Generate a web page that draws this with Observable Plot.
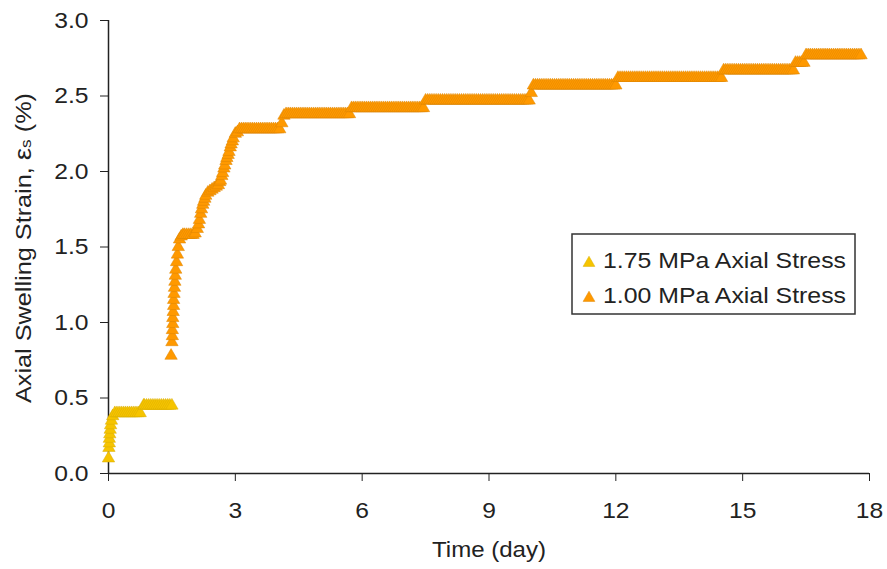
<!DOCTYPE html>
<html>
<head>
<meta charset="utf-8">
<script src="https://cdn.jsdelivr.net/npm/d3@7"></script>
<script src="https://cdn.jsdelivr.net/npm/@observablehq/plot@0.6"></script>
<style>
  html, body { margin: 0; padding: 0; background: #fff; }
  #chart svg { display: block; }
</style>
</head>
<body>
<div id="chart"></div>
<script>
// ---- data ----
const seriesNames = ["1.75 MPa Axial Stress", "1.00 MPa Axial Stress"];
const xTicks = [0, 3, 6, 9, 12, 15, 18];
const yTicks = [0, 0.5, 1.0, 1.5, 2.0, 2.5, 3.0];
const xTitle = "Time (day)";
const yTitle = "Axial Swelling Strain, ";

// 1.75 MPa series: [time (day), strain (%)]
const yellowPoints = [
  [0.00,0.10],[0.01,0.17],[0.02,0.20],[0.02,0.23],[0.03,0.26],[0.04,0.29],[0.05,0.32],[0.07,0.35],[0.10,0.38],
  [0.15,0.40],[0.20,0.40],[0.25,0.40],[0.30,0.40],[0.35,0.40],[0.40,0.40],[0.45,0.40],[0.50,0.40],[0.55,0.40],
  [0.60,0.40],[0.65,0.40],[0.70,0.40],[0.75,0.40],
  [0.83,0.45],[0.85,0.45],[0.90,0.45],[0.95,0.45],[1.00,0.45],[1.05,0.45],[1.10,0.45],[1.15,0.45],[1.20,0.45],
  [1.25,0.45],[1.30,0.45],[1.35,0.45],[1.40,0.45],[1.45,0.45],[1.50,0.45]
];

// 1.00 MPa series: [time (day), strain (%)]
const orangePoints = [
  [1.48,0.78],
  [1.50,0.87],[1.51,0.91],[1.51,0.95],[1.52,0.99],[1.52,1.03],[1.53,1.07],[1.54,1.11],[1.54,1.15],[1.55,1.19],
  [1.56,1.23],[1.57,1.27],[1.58,1.31],[1.59,1.35],[1.61,1.40],[1.63,1.45],[1.65,1.50],[1.68,1.55],
  [1.72,1.57],[1.76,1.58],[1.80,1.58],[1.85,1.58],[1.90,1.58],[1.95,1.58],[2.00,1.58],[2.05,1.59],
  [2.10,1.62],[2.13,1.65],[2.15,1.68],[2.18,1.72],[2.20,1.75],[2.23,1.78],[2.25,1.80],[2.28,1.82],[2.30,1.84],
  [2.35,1.86],[2.40,1.87],[2.45,1.88],[2.50,1.89],[2.55,1.90],[2.60,1.91],[2.63,1.93],[2.65,1.94],[2.68,1.97],
  [2.70,1.99],[2.73,2.02],[2.75,2.04],[2.78,2.07],[2.80,2.09],[2.83,2.11],[2.85,2.13],[2.88,2.16],[2.90,2.18],
  [2.93,2.20],[2.95,2.22],[3.00,2.25],
  [3.05,2.26],[3.10,2.28],[3.15,2.28],[3.20,2.28],[3.25,2.28],[3.30,2.28],[3.35,2.28],[3.40,2.28],[3.45,2.28],
  [3.50,2.28],[3.55,2.28],[3.60,2.28],[3.65,2.28],[3.70,2.28],[3.75,2.28],[3.80,2.28],[3.85,2.28],[3.90,2.28],
  [3.95,2.28],[4.00,2.28],[4.05,2.28],
  [4.10,2.32],[4.15,2.37],
  [4.20,2.38],[4.25,2.38],[4.30,2.38],[4.35,2.38],[4.40,2.38],[4.45,2.38],[4.50,2.38],[4.55,2.38],[4.60,2.38],
  [4.65,2.38],[4.70,2.38],[4.75,2.38],[4.80,2.38],[4.85,2.38],[4.90,2.38],[4.95,2.38],[5.00,2.38],[5.05,2.38],
  [5.10,2.38],[5.15,2.38],[5.20,2.38],[5.25,2.38],[5.30,2.38],[5.35,2.38],[5.40,2.38],[5.45,2.38],[5.50,2.38],
  [5.55,2.38],[5.60,2.38],[5.65,2.38],[5.70,2.38],
  [5.75,2.42],[5.80,2.42],[5.85,2.42],[5.90,2.42],[5.95,2.42],[6.00,2.42],[6.05,2.42],[6.10,2.42],[6.15,2.42],
  [6.20,2.42],[6.25,2.42],[6.30,2.42],[6.35,2.42],[6.40,2.42],[6.45,2.42],[6.50,2.42],[6.55,2.42],[6.60,2.42],
  [6.65,2.42],[6.70,2.42],[6.75,2.42],[6.80,2.42],[6.85,2.42],[6.90,2.42],[6.95,2.42],[7.00,2.42],[7.05,2.42],
  [7.10,2.42],[7.15,2.42],[7.20,2.42],[7.25,2.42],[7.30,2.42],[7.35,2.42],[7.40,2.42],[7.45,2.42],
  [7.50,2.47],[7.55,2.47],[7.60,2.47],[7.65,2.47],[7.70,2.47],[7.75,2.47],[7.80,2.47],[7.85,2.47],[7.90,2.47],
  [7.95,2.47],[8.00,2.47],[8.05,2.47],[8.10,2.47],[8.15,2.47],[8.20,2.47],[8.25,2.47],[8.30,2.47],[8.35,2.47],
  [8.40,2.47],[8.45,2.47],[8.50,2.47],[8.55,2.47],[8.60,2.47],[8.65,2.47],[8.70,2.47],[8.75,2.47],[8.80,2.47],
  [8.85,2.47],[8.90,2.47],[8.95,2.47],[9.00,2.47],[9.05,2.47],[9.10,2.47],[9.15,2.47],[9.20,2.47],[9.25,2.47],
  [9.30,2.47],[9.35,2.47],[9.40,2.47],[9.45,2.47],[9.50,2.47],[9.55,2.47],[9.60,2.47],[9.65,2.47],[9.70,2.47],
  [9.75,2.47],[9.80,2.47],[9.85,2.47],[9.90,2.47],[9.95,2.47],
  [10.00,2.52],
  [10.05,2.57],[10.10,2.57],[10.15,2.57],[10.20,2.57],[10.25,2.57],[10.30,2.57],[10.35,2.57],[10.40,2.57],
  [10.45,2.57],[10.50,2.57],[10.55,2.57],[10.60,2.57],[10.65,2.57],[10.70,2.57],[10.75,2.57],[10.80,2.57],
  [10.85,2.57],[10.90,2.57],[10.95,2.57],[11.00,2.57],[11.05,2.57],[11.10,2.57],[11.15,2.57],[11.20,2.57],
  [11.25,2.57],[11.30,2.57],[11.35,2.57],[11.40,2.57],[11.45,2.57],[11.50,2.57],[11.55,2.57],[11.60,2.57],
  [11.65,2.57],[11.70,2.57],[11.75,2.57],[11.80,2.57],[11.85,2.57],[11.90,2.57],[11.95,2.57],[12.00,2.57],
  [12.05,2.62],[12.10,2.62],[12.15,2.62],[12.20,2.62],[12.25,2.62],[12.30,2.62],[12.35,2.62],[12.40,2.62],
  [12.45,2.62],[12.50,2.62],[12.55,2.62],[12.60,2.62],[12.65,2.62],[12.70,2.62],[12.75,2.62],[12.80,2.62],
  [12.85,2.62],[12.90,2.62],[12.95,2.62],[13.00,2.62],[13.05,2.62],[13.10,2.62],[13.15,2.62],[13.20,2.62],
  [13.25,2.62],[13.30,2.62],[13.35,2.62],[13.40,2.62],[13.45,2.62],[13.50,2.62],[13.55,2.62],[13.60,2.62],
  [13.65,2.62],[13.70,2.62],[13.75,2.62],[13.80,2.62],[13.85,2.62],[13.90,2.62],[13.95,2.62],[14.00,2.62],
  [14.05,2.62],[14.10,2.62],[14.15,2.62],[14.20,2.62],[14.25,2.62],[14.30,2.62],[14.35,2.62],[14.40,2.62],
  [14.45,2.62],[14.50,2.62],
  [14.55,2.67],[14.60,2.67],[14.65,2.67],[14.70,2.67],[14.75,2.67],[14.80,2.67],[14.85,2.67],[14.90,2.67],
  [14.95,2.67],[15.00,2.67],[15.05,2.67],[15.10,2.67],[15.15,2.67],[15.20,2.67],[15.25,2.67],[15.30,2.67],
  [15.35,2.67],[15.40,2.67],[15.45,2.67],[15.50,2.67],[15.55,2.67],[15.60,2.67],[15.65,2.67],[15.70,2.67],
  [15.75,2.67],[15.80,2.67],[15.85,2.67],[15.90,2.67],[15.95,2.67],[16.00,2.67],[16.05,2.67],[16.10,2.67],
  [16.15,2.67],[16.20,2.67],
  [16.25,2.72],[16.30,2.72],[16.35,2.72],[16.40,2.72],[16.45,2.72],
  [16.50,2.77],[16.55,2.77],[16.60,2.77],[16.65,2.77],[16.70,2.77],[16.75,2.77],[16.80,2.77],[16.85,2.77],
  [16.90,2.77],[16.95,2.77],[17.00,2.77],[17.05,2.77],[17.10,2.77],[17.15,2.77],[17.20,2.77],[17.25,2.77],
  [17.30,2.77],[17.35,2.77],[17.40,2.77],[17.45,2.77],[17.50,2.77],[17.55,2.77],[17.60,2.77],[17.65,2.77],
  [17.70,2.77],[17.75,2.77],[17.80,2.77]
];

// ---- build tables ----
const yellowData = yellowPoints.map(([t, v]) => ({t, v}));
const orangeData = orangePoints.map(([t, v]) => ({t, v}));

const YELLOW = "#F6C400", YELLOW_EDGE = "#D9AC00";
const ORANGE = "#FF9900", ORANGE_EDGE = "#DD8500";
const FONT = "'Liberation Sans', Arial, sans-serif";
const INK = "#222";

const chart = Plot.plot({
  width: 887,
  height: 569,
  marginLeft: 108,
  marginRight: 18,
  marginTop: 20,
  marginBottom: 96,
  style: {fontFamily: FONT, fontSize: "22px", color: INK, background: "#fff"},
  x: {domain: [0, 18], ticks: xTicks, tickSize: 8, tickPadding: 21, label: null},
  y: {domain: [0, 3], ticks: yTicks, tickSize: 8, tickPadding: 12, tickFormat: d3.format(".1f"), label: null},
  marks: [
    Plot.ruleY([0], {stroke: INK, strokeWidth: 1.5}),
    Plot.ruleX([0], {stroke: INK, strokeWidth: 1.5}),
    Plot.dot(yellowData, {x: "t", y: "v", symbol: "triangle", r: 4.6, fill: YELLOW, stroke: YELLOW_EDGE, strokeWidth: 0.5}),
    Plot.dot(orangeData, {x: "t", y: "v", symbol: "triangle", r: 4.6, fill: ORANGE, stroke: ORANGE_EDGE, strokeWidth: 0.5})
  ]
});

document.getElementById("chart").appendChild(chart);

// widen tick labels slightly to match the reference's wide glyphs
chart.querySelectorAll("text").forEach(el => {
  const len = el.getComputedTextLength();
  if (len > 0) {
    el.setAttribute("textLength", (len * 1.12).toFixed(1));
    el.setAttribute("lengthAdjust", "spacingAndGlyphs");
  }
});

const svg = d3.select(chart);

// x-axis title
svg.append("text")
  .attr("x", 489).attr("y", 557)
  .attr("text-anchor", "middle")
  .attr("font-family", FONT).attr("font-size", 22).attr("fill", INK)
  .attr("textLength", 114).attr("lengthAdjust", "spacingAndGlyphs")
  .text(xTitle);

// y-axis title
const yt = svg.append("text")
  .attr("transform", "translate(31,248) rotate(-90)")
  .attr("text-anchor", "middle")
  .attr("font-family", FONT).attr("font-size", 22).attr("fill", INK)
  .attr("textLength", 310).attr("lengthAdjust", "spacingAndGlyphs");
yt.append("tspan").text(yTitle);
yt.append("tspan").attr("font-size", 24).text("ε");
yt.append("tspan").attr("font-size", 15).text("s");
yt.append("tspan").text(" (%)");

// legend
const lg = svg.append("g");
lg.append("rect")
  .attr("x", 572).attr("y", 234).attr("width", 283).attr("height", 80)
  .attr("fill", "#fff").attr("stroke", "#333").attr("stroke-width", 1.5);
const tri = d3.symbol(d3.symbolTriangle, 60)();
const rows = [
  {name: seriesNames[0], fill: YELLOW, edge: YELLOW_EDGE, y: 268},
  {name: seriesNames[1], fill: ORANGE, edge: ORANGE_EDGE, y: 303}
];
rows.forEach(r => {
  lg.append("path")
    .attr("d", tri)
    .attr("transform", `translate(589,${r.y - 5})`)
    .attr("fill", r.fill).attr("stroke", r.edge).attr("stroke-width", 0.5);
  lg.append("text")
    .attr("x", 603).attr("y", r.y)
    .attr("text-anchor", "start")
    .attr("font-family", FONT).attr("font-size", 22).attr("fill", INK)
    .attr("textLength", 243).attr("lengthAdjust", "spacingAndGlyphs")
    .text(r.name);
});
</script>
</body>
</html>
